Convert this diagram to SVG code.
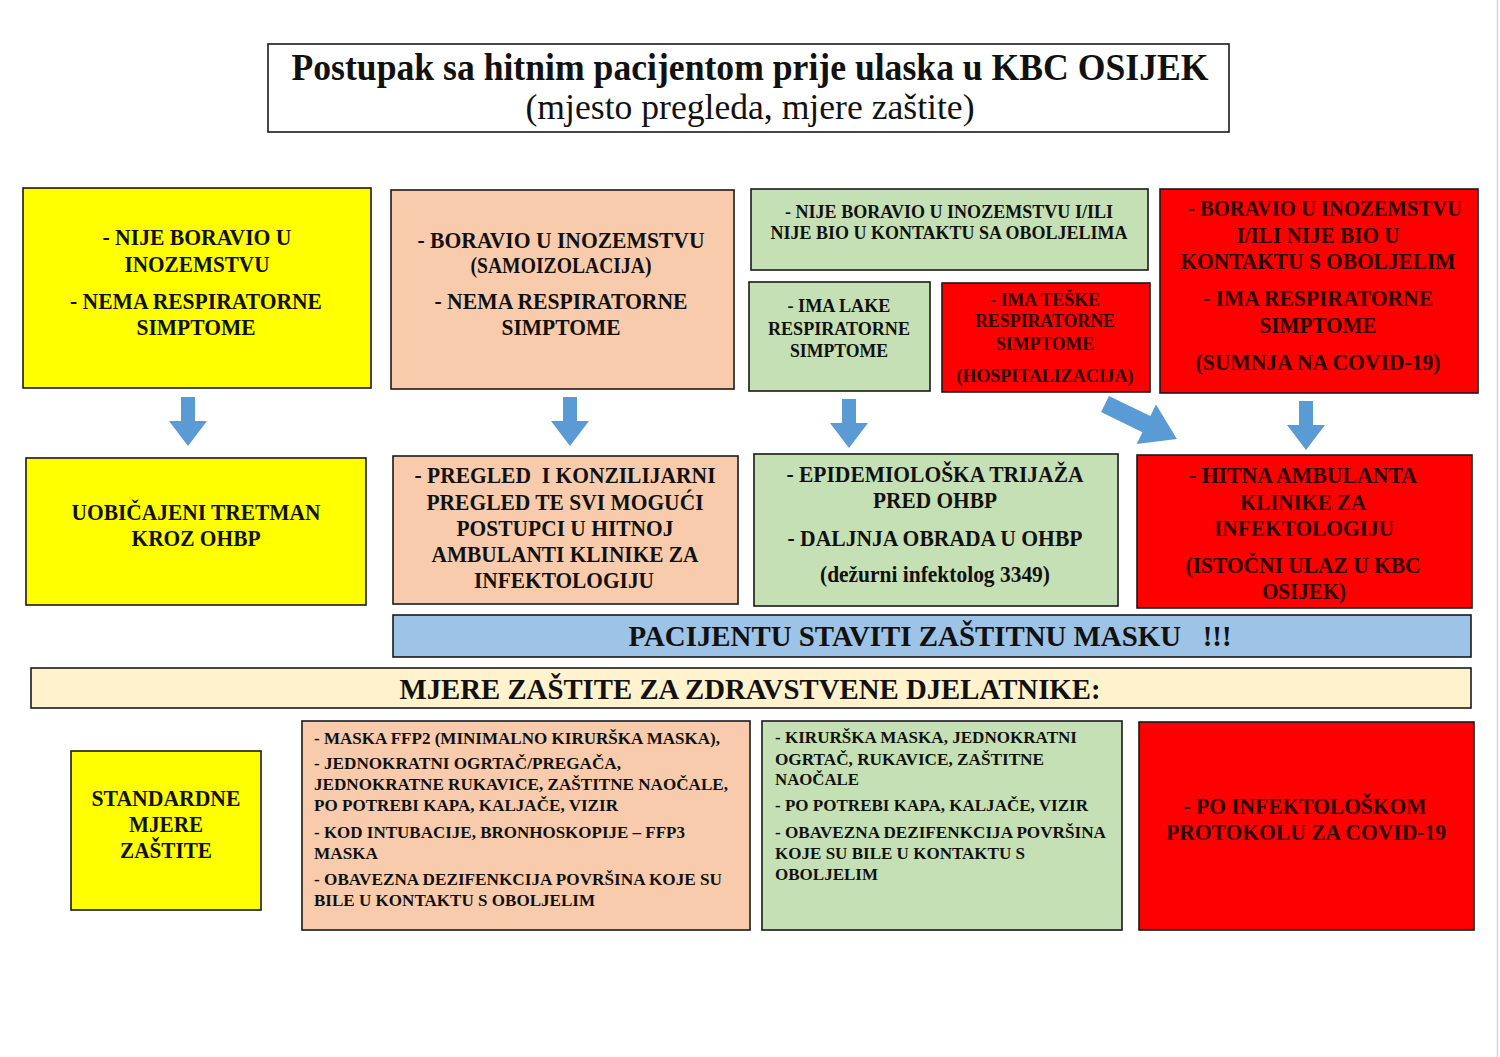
<svg xmlns="http://www.w3.org/2000/svg" width="1500" height="1057" viewBox="0 0 1500 1057">
<style>
.bx{stroke:#1a1a1a;stroke-width:1.6}
.y{fill:#ffff00}.p{fill:#f8cbad}.g{fill:#c5e0b4}.r{fill:#ff0000}.b{fill:#9dc3e6}.c{fill:#fff2cc}
text{font-family:"Liberation Serif","Times New Roman",serif;font-weight:bold;fill:#111}
.t22{font-size:23px;text-anchor:middle}
.t17{font-size:18px;text-anchor:middle}
.l17{font-size:17.5px;text-anchor:start}
.rt{fill:#2a0000}
.ban{font-size:29px;text-anchor:middle}
.arr{fill:#5b9bd5}
.pre{white-space:pre}
</style>
<defs>
<path id="down" d="M-7,0 H7 V24 H19 L0,49 L-19,24 H-7 Z"/>
</defs>
<rect width="1500" height="1057" fill="#ffffff"/>
<line x1="1497.5" y1="0" x2="1497.5" y2="1057" stroke="#d4d4d4" stroke-width="1.5"/>

<g id="title">
<rect x="268" y="44" width="961" height="88" fill="#fff" class="bx"/>
<text x="750" y="80" style="font-size:37px;text-anchor:middle" textLength="917" lengthAdjust="spacingAndGlyphs">Postupak sa hitnim pacijentom prije ulaska u KBC OSIJEK</text>
<text x="750" y="119" style="font-size:35px;text-anchor:middle;font-weight:normal" textLength="449" lengthAdjust="spacingAndGlyphs">(mjesto pregleda, mjere zaštite)</text>
</g>

<g id="nodeA">
<rect x="23" y="188" width="348" height="200" class="bx y"/>
<text class="t22" x="197" y="245" textLength="189" lengthAdjust="spacingAndGlyphs">- NIJE BORAVIO U</text>
<text class="t22" x="197" y="272" textLength="145" lengthAdjust="spacingAndGlyphs">INOZEMSTVU</text>
<text class="t22" x="196" y="309" textLength="252" lengthAdjust="spacingAndGlyphs">- NEMA RESPIRATORNE</text>
<text class="t22" x="196" y="335" textLength="119" lengthAdjust="spacingAndGlyphs">SIMPTOME</text>
</g>

<g id="nodeB">
<rect x="391" y="190" width="343" height="199" class="bx p"/>
<text class="t22" x="561" y="248" textLength="287" lengthAdjust="spacingAndGlyphs">- BORAVIO U INOZEMSTVU</text>
<text class="t22" x="561" y="273" textLength="181" lengthAdjust="spacingAndGlyphs">(SAMOIZOLACIJA)</text>
<text class="t22" x="561" y="309" textLength="253" lengthAdjust="spacingAndGlyphs">- NEMA RESPIRATORNE</text>
<text class="t22" x="561" y="335" textLength="119" lengthAdjust="spacingAndGlyphs">SIMPTOME</text>
</g>

<g id="nodeC">
<rect x="751" y="189" width="397" height="81" class="bx g"/>
<text class="t17" x="949" y="218" textLength="328" lengthAdjust="spacingAndGlyphs">- NIJE BORAVIO U INOZEMSTVU I/ILI</text>
<text class="t17" x="949" y="239" textLength="357" lengthAdjust="spacingAndGlyphs">NIJE BIO U KONTAKTU SA OBOLJELIMA</text>
</g>

<g id="nodeD">
<rect x="749" y="282" width="181" height="109" class="bx g"/>
<text class="t17" x="839" y="312" textLength="103" lengthAdjust="spacingAndGlyphs">- IMA LAKE</text>
<text class="t17" x="839" y="335" textLength="142" lengthAdjust="spacingAndGlyphs">RESPIRATORNE</text>
<text class="t17" x="839" y="357" textLength="98" lengthAdjust="spacingAndGlyphs">SIMPTOME</text>
</g>

<g id="nodeE">
<rect x="942" y="283" width="208" height="109" class="bx r"/>
<text class="t17 rt" x="1045" y="306" textLength="110" lengthAdjust="spacingAndGlyphs">- IMA TEŠKE</text>
<text class="t17 rt" x="1045" y="327" textLength="140" lengthAdjust="spacingAndGlyphs">RESPIRATORNE</text>
<text class="t17 rt" x="1045" y="350" textLength="98" lengthAdjust="spacingAndGlyphs">SIMPTOME</text>
<text class="t17 rt" x="1045" y="382" textLength="177" lengthAdjust="spacingAndGlyphs">(HOSPITALIZACIJA)</text>
</g>

<g id="nodeF">
<rect x="1160" y="189" width="318" height="204" class="bx r"/>
<text class="t22 rt" x="1325" y="216" textLength="274" lengthAdjust="spacingAndGlyphs">- BORAVIO U INOZEMSTVU</text>
<text class="t22 rt" x="1318" y="243" textLength="163" lengthAdjust="spacingAndGlyphs">I/ILI NIJE BIO U</text>
<text class="t22 rt" x="1318" y="269" textLength="275" lengthAdjust="spacingAndGlyphs">KONTAKTU S OBOLJELIM</text>
<text class="t22 rt" x="1318" y="306" textLength="230" lengthAdjust="spacingAndGlyphs">- IMA RESPIRATORNE</text>
<text class="t22 rt" x="1318" y="333" textLength="117" lengthAdjust="spacingAndGlyphs">SIMPTOME</text>
<text class="t22 rt" x="1318" y="370" textLength="245" lengthAdjust="spacingAndGlyphs">(SUMNJA NA COVID-19)</text>
</g>

<g id="connectors">
<use href="#down" class="arr" x="188" y="397"/>
<use href="#down" class="arr" x="570" y="397"/>
<use href="#down" class="arr" x="849" y="399"/>
<path class="arr" transform="translate(1105,404) rotate(26)" d="M0,-9 H46 V-22 L80,0 L46,22 V9 H0 Z"/>
<use href="#down" class="arr" x="1306" y="401"/>
</g>

<g id="nodeG">
<rect x="26" y="458" width="340" height="147" class="bx y"/>
<text class="t22" x="196" y="520" textLength="249" lengthAdjust="spacingAndGlyphs">UOBIČAJENI TRETMAN</text>
<text class="t22" x="196" y="546" textLength="129" lengthAdjust="spacingAndGlyphs">KROZ OHBP</text>
</g>

<g id="nodeH">
<rect x="393" y="456" width="345" height="148" class="bx p"/>
<text class="t22 pre" x="565" y="483" textLength="301" lengthAdjust="spacingAndGlyphs">- PREGLED  I KONZILIJARNI</text>
<text class="t22" x="565" y="510" textLength="277" lengthAdjust="spacingAndGlyphs">PREGLED TE SVI MOGUĆI</text>
<text class="t22" x="565" y="536" textLength="217" lengthAdjust="spacingAndGlyphs">POSTUPCI U HITNOJ</text>
<text class="t22" x="565" y="562" textLength="267" lengthAdjust="spacingAndGlyphs">AMBULANTI KLINIKE ZA</text>
<text class="t22" x="564" y="588" textLength="180" lengthAdjust="spacingAndGlyphs">INFEKTOLOGIJU</text>
</g>

<g id="nodeI">
<rect x="754" y="454" width="364" height="152" class="bx g"/>
<text class="t22" x="935" y="482" textLength="297" lengthAdjust="spacingAndGlyphs">- EPIDEMIOLOŠKA TRIJAŽA</text>
<text class="t22" x="935" y="508" textLength="124" lengthAdjust="spacingAndGlyphs">PRED OHBP</text>
<text class="t22" x="935" y="546" textLength="295" lengthAdjust="spacingAndGlyphs">- DALJNJA OBRADA U OHBP</text>
<text class="t22" x="935" y="582" textLength="230" lengthAdjust="spacingAndGlyphs">(dežurni infektolog 3349)</text>
</g>

<g id="nodeJ">
<rect x="1137" y="455" width="335" height="153" class="bx r"/>
<text class="t22 rt" x="1303" y="483" textLength="228" lengthAdjust="spacingAndGlyphs">- HITNA AMBULANTA</text>
<text class="t22 rt" x="1303" y="510" textLength="126" lengthAdjust="spacingAndGlyphs">KLINIKE ZA</text>
<text class="t22 rt" x="1304" y="536" textLength="180" lengthAdjust="spacingAndGlyphs">INFEKTOLOGIJU</text>
<text class="t22 rt" x="1303" y="573" textLength="235" lengthAdjust="spacingAndGlyphs">(ISTOČNI ULAZ U KBC</text>
<text class="t22 rt" x="1304" y="599" textLength="84" lengthAdjust="spacingAndGlyphs">OSIJEK)</text>
</g>

<g id="bannerMask">
<rect x="393" y="615" width="1078" height="42" class="bx b"/>
<text class="ban pre" x="930" y="646" textLength="603" lengthAdjust="spacingAndGlyphs">PACIJENTU STAVITI ZAŠTITNU MASKU   !!!</text>
</g>

<g id="bannerMjere">
<rect x="31" y="668" width="1440" height="40" class="bx c"/>
<text class="ban" x="750" y="699" textLength="701" lengthAdjust="spacingAndGlyphs">MJERE ZAŠTITE ZA ZDRAVSTVENE DJELATNIKE:</text>
</g>

<g id="nodeK">
<rect x="71" y="751" width="190" height="159" class="bx y"/>
<text class="t22" x="166" y="806" textLength="149" lengthAdjust="spacingAndGlyphs">STANDARDNE</text>
<text class="t22" x="166" y="832" textLength="74" lengthAdjust="spacingAndGlyphs">MJERE</text>
<text class="t22" x="166" y="858" textLength="92" lengthAdjust="spacingAndGlyphs">ZAŠTITE</text>
</g>

<g id="nodeL">
<rect x="302" y="721" width="448" height="209" class="bx p"/>
<text class="l17" x="314" y="744" textLength="406" lengthAdjust="spacingAndGlyphs">- MASKA FFP2 (MINIMALNO KIRURŠKA MASKA),</text>
<text class="l17" x="314" y="769" textLength="307" lengthAdjust="spacingAndGlyphs">- JEDNOKRATNI OGRTAČ/PREGAČA,</text>
<text class="l17" x="314" y="790" textLength="414" lengthAdjust="spacingAndGlyphs">JEDNOKRATNE RUKAVICE, ZAŠTITNE NAOČALE,</text>
<text class="l17" x="314" y="811" textLength="304" lengthAdjust="spacingAndGlyphs">PO POTREBI KAPA, KALJAČE, VIZIR</text>
<text class="l17" x="314" y="838" textLength="371" lengthAdjust="spacingAndGlyphs">- KOD INTUBACIJE, BRONHOSKOPIJE – FFP3</text>
<text class="l17" x="314" y="859" textLength="64" lengthAdjust="spacingAndGlyphs">MASKA</text>
<text class="l17" x="314" y="885" textLength="408" lengthAdjust="spacingAndGlyphs">- OBAVEZNA DEZIFENKCIJA POVRŠINA KOJE SU</text>
<text class="l17" x="314" y="906" textLength="281" lengthAdjust="spacingAndGlyphs">BILE U KONTAKTU S OBOLJELIM</text>
</g>

<g id="nodeM">
<rect x="762" y="721" width="360" height="209" class="bx g"/>
<text class="l17" x="775" y="743" textLength="302" lengthAdjust="spacingAndGlyphs">- KIRURŠKA MASKA, JEDNOKRATNI</text>
<text class="l17" x="775" y="765" textLength="269" lengthAdjust="spacingAndGlyphs">OGRTAČ, RUKAVICE, ZAŠTITNE</text>
<text class="l17" x="775" y="785" textLength="84" lengthAdjust="spacingAndGlyphs">NAOČALE</text>
<text class="l17" x="775" y="811" textLength="313" lengthAdjust="spacingAndGlyphs">- PO POTREBI KAPA, KALJAČE, VIZIR</text>
<text class="l17" x="775" y="838" textLength="331" lengthAdjust="spacingAndGlyphs">- OBAVEZNA DEZIFENKCIJA POVRŠINA</text>
<text class="l17" x="775" y="859" textLength="250" lengthAdjust="spacingAndGlyphs">KOJE SU BILE U KONTAKTU S</text>
<text class="l17" x="775" y="880" textLength="103" lengthAdjust="spacingAndGlyphs">OBOLJELIM</text>
</g>

<g id="nodeN">
<rect x="1139" y="722" width="335" height="208" class="bx r"/>
<text class="t22 rt" x="1305" y="814" textLength="243" lengthAdjust="spacingAndGlyphs">- PO INFEKTOLOŠKOM</text>
<text class="t22 rt" x="1306" y="840" textLength="280" lengthAdjust="spacingAndGlyphs">PROTOKOLU ZA COVID-19</text>
</g>
</svg>
